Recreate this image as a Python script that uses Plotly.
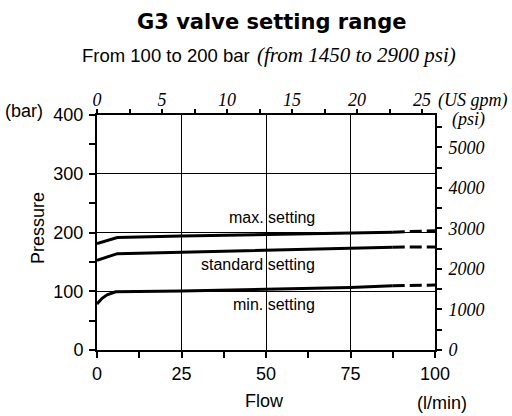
import plotly.graph_objects as go

# Flow (l/min) and pressure (bar) for the three pressure settings
flow_max = [0, 6, 25, 50, 75, 87.5]
bar_max = [181, 191.5, 194, 196.5, 198.5, 200.5]
flow_std = [0, 6, 25, 50, 75, 87.5]
bar_std = [152.5, 164, 166.5, 169.5, 172.5, 175]
flow_min = [0, 1.5, 3, 5.5, 25, 50, 75, 87.5]
bar_min = [78.5, 88, 94, 99, 100.5, 103, 106.5, 109.5]

# dashed extension beyond the tested range
flow_ext = [87.5, 100]
bar_max_ext = [200.5, 203]
bar_std_ext = [175, 175.5]
bar_min_ext = [109.5, 110.5]

setting_labels = ["max. setting", "standard setting", "min. setting"]
label_bar = [225, 145, 78]
label_flow = 65

bar_ticks = [0, 100, 200, 300, 400]
flow_ticks = [0, 25, 50, 75, 100]
gpm_ticks = [0, 5, 10, 15, 20, 25]
psi_ticks = [0, 1000, 2000, 3000, 4000, 5000]
gpm_max = 26.0
psi_max = 5801

W, H = 512, 416
ML, MR, MT, MB = 97, 77, 115, 66
PW, PH = W - ML - MR, H - MT - MB


def paper_x(px):
    return (px - ML) / PW


def paper_y(py):
    return (H - MB - py) / PH


SANS = "Liberation Sans, Arial, sans-serif"
SERIF = "Liberation Serif, Times New Roman, serif"

fig = go.Figure()

line = dict(color="black", width=3)
dashed = dict(color="black", width=3, dash="12px,5px")
for fx, fy, ey in [(flow_max, bar_max, bar_max_ext),
                   (flow_std, bar_std, bar_std_ext),
                   (flow_min, bar_min, bar_min_ext)]:
    fig.add_trace(go.Scatter(x=fx, y=fy, mode="lines", line=line,
                             hoverinfo="skip", showlegend=False))
    fig.add_trace(go.Scatter(x=flow_ext, y=ey, mode="lines", line=dashed,
                             hoverinfo="skip", showlegend=False))

# invisible traces so the secondary (US gpm / psi) axes are drawn
for xa in ["x2", "x3"]:
    fig.add_trace(go.Scatter(x=[0, 25], y=[0, 5000], xaxis=xa, yaxis="y2",
                             mode="markers", marker=dict(opacity=0),
                             hoverinfo="skip", showlegend=False))

for text, y in zip(setting_labels, label_bar):
    fig.add_annotation(x=label_flow, y=y, text=text, showarrow=False,
                       xanchor="right", yanchor="middle",
                       font=dict(family=SANS, size=16, color="black"))

tick_common = dict(tickcolor="black", tickwidth=1.5,
                   showline=True, linecolor="black", zeroline=False)

fig.update_layout(
    width=W, height=H,
    margin=dict(l=ML, r=MR, t=MT, b=MB, pad=0),
    paper_bgcolor="white", plot_bgcolor="white",
    xaxis=dict(range=[0, 100], tickvals=flow_ticks, ticks="outside",
               ticklen=6, linewidth=2,
               showgrid=True, gridcolor="black", gridwidth=1,
               minor=dict(dtick=12.5, tick0=0, ticks="outside", ticklen=6,
                          tickcolor="black", showgrid=False),
               tickfont=dict(family=SANS, size=18, color="black"),
               ticklabelstandoff=0,
               **tick_common),
    yaxis=dict(range=[0, 400], tickvals=bar_ticks, ticks="outside",
               ticklen=6, linewidth=2,
               showgrid=True, gridcolor="black", gridwidth=1,
               minor=dict(dtick=50, tick0=0, ticks="outside", ticklen=6,
                          tickcolor="black", showgrid=False),
               tickfont=dict(family=SANS, size=18, color="black"),
               ticklabelstandoff=2,
               **tick_common),
    # US gpm labels along the top
    xaxis2=dict(overlaying="x", side="top", anchor="y", range=[0, gpm_max],
                tickvals=gpm_ticks, ticks="", linewidth=1.5, showgrid=False,
                tickfont=dict(family=SERIF, size=18, color="black",
                              style="italic"),
                ticklabelstandoff=0,
                **tick_common),
    # US gpm tick marks along the top
    xaxis3=dict(overlaying="x", side="top", anchor="y", range=[0, gpm_max],
                tickvals=gpm_ticks, ticks="outside", ticklen=4,
                showticklabels=False, linewidth=1.5, showgrid=False,
                minor=dict(dtick=2.5, tick0=0, ticks="outside", ticklen=4,
                           tickcolor="black", showgrid=False),
                **tick_common),
    yaxis2=dict(overlaying="y", side="right", anchor="x", range=[0, psi_max],
                tickvals=psi_ticks, ticks="outside", ticklen=5, linewidth=2,
                showgrid=False,
                minor=dict(dtick=500, tick0=0, ticks="outside", ticklen=5,
                           tickcolor="black", showgrid=False),
                tickfont=dict(family=SERIF, size=18, color="black",
                              style="italic"),
                ticklabelstandoff=3,
                **tick_common),
)

# titles and axis captions
fig.add_annotation(xref="paper", yref="paper", x=paper_x(272), y=paper_y(22),
                   text="<b>G3 valve setting range</b>", showarrow=False,
                   xanchor="center", yanchor="middle",
                   font=dict(family="DejaVu Sans, Verdana, sans-serif",
                             size=21, color="black"))
fig.add_annotation(xref="paper", yref="paper", x=paper_x(252), y=paper_y(55),
                   text="From 100 to 200 bar", showarrow=False,
                   xanchor="right", yanchor="middle",
                   font=dict(family=SANS, size=18.5, color="black"))
fig.add_annotation(xref="paper", yref="paper", x=paper_x(255), y=paper_y(55),
                   text="(from 1450 to 2900 psi)", showarrow=False,
                   xanchor="left", yanchor="middle",
                   font=dict(family=SERIF, size=21, color="black",
                             style="italic"))
fig.add_annotation(xref="paper", yref="paper", x=paper_x(436), y=paper_y(101),
                   text="(US gpm)", showarrow=False,
                   xanchor="left", yanchor="middle",
                   font=dict(family=SERIF, size=18, color="black",
                             style="italic"))
fig.add_annotation(xref="paper", yref="paper", x=paper_x(468), y=paper_y(119),
                   text="(psi)", showarrow=False,
                   xanchor="center", yanchor="middle",
                   font=dict(family=SERIF, size=18, color="black",
                             style="italic"))
fig.add_annotation(xref="paper", yref="paper", x=paper_x(45), y=paper_y(111),
                   text="(bar)", showarrow=False,
                   xanchor="right", yanchor="middle",
                   font=dict(family=SANS, size=18, color="black"))
fig.add_annotation(xref="paper", yref="paper", x=paper_x(38), y=paper_y(228),
                   text="Pressure", showarrow=False, textangle=-90,
                   xanchor="center", yanchor="middle",
                   font=dict(family=SANS, size=18, color="black"))
fig.add_annotation(xref="paper", yref="paper", x=paper_x(264), y=paper_y(401),
                   text="Flow", showarrow=False,
                   xanchor="center", yanchor="middle",
                   font=dict(family=SANS, size=18, color="black"))
fig.add_annotation(xref="paper", yref="paper", x=paper_x(442), y=paper_y(403),
                   text="(l/min)", showarrow=False,
                   xanchor="center", yanchor="middle",
                   font=dict(family=SANS, size=18, color="black"))

fig.write_html("out.html")
